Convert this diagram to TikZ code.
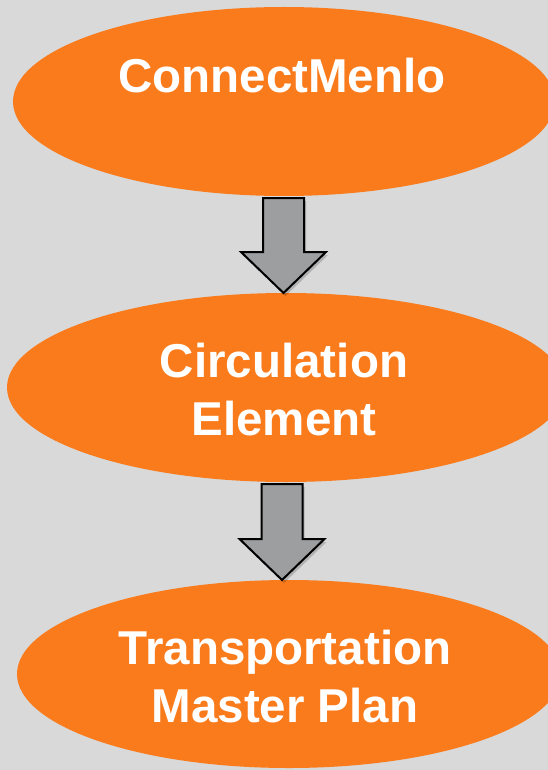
\documentclass[tikz,border=0pt]{standalone}
\usepackage{fontspec}
\setmainfont{Liberation Sans}
\usetikzlibrary{shapes.geometric}
\definecolor{bg}{HTML}{D9D9D9}
\definecolor{orng}{HTML}{FA7B1C}
\definecolor{arrgray}{HTML}{9D9EA0}
\begin{document}
\begin{tikzpicture}[x=1pt,y=-1pt,
  oval/.style={ellipse, fill=orng, draw=none, inner sep=0pt},
  lbl/.style={text=white, font=\fontsize{47.5}{58}\selectfont\bfseries, align=center, inner sep=0pt},
  blockarrow/.style={fill=arrgray, draw=black, line width=2pt, line join=miter},
  arrowshadow/.style={fill=black, opacity=0.18, draw=none}]
\fill[bg] (0,0) rectangle (548,770);
\useasboundingbox (0,0) rectangle (548,770);
\begin{scope}
\clip (0,0) rectangle (548,770);
\node[oval, minimum width=542pt, minimum height=189pt] (e1) at (284,101.5) {};
\node[oval, minimum width=558pt, minimum height=189pt] (e2) at (286,387.5) {};
\node[oval, minimum width=544pt, minimum height=188pt] (e3) at (289,674) {};
\end{scope}
\node[lbl, anchor=base] (t1) at (282,93) {ConnectMenlo};
\node[lbl, anchor=base] (t2) at (284,435) {Circulation\\Element};
\node[lbl, anchor=base] (t3) at (285,722) {Transportation\\Master Plan};
\coordinate (a1) at (283.5,198);
\coordinate (a2) at (282,484);
\fill[arrowshadow] (a1) ++(-18.5,3) -- ++(41,0) -- ++(0,54) -- ++(22,0) -- ++(-42.5,41) -- ++(-42.5,-41) -- ++(22,0) -- cycle;
\fill[arrowshadow] (a2) ++(-18.5,3) -- ++(41,0) -- ++(0,55) -- ++(22,0) -- ++(-42.5,41) -- ++(-42.5,-41) -- ++(22,0) -- cycle;
\draw[blockarrow] (a1) ++(-20.5,0) -- ++(41,0) -- ++(0,54) -- ++(22,0) -- ++(-42.5,41) -- ++(-42.5,-41) -- ++(22,0) -- cycle;
\draw[blockarrow] (a2) ++(-20.5,0) -- ++(41,0) -- ++(0,55) -- ++(22,0) -- ++(-42.5,41) -- ++(-42.5,-41) -- ++(22,0) -- cycle;
\end{tikzpicture}
\end{document}
